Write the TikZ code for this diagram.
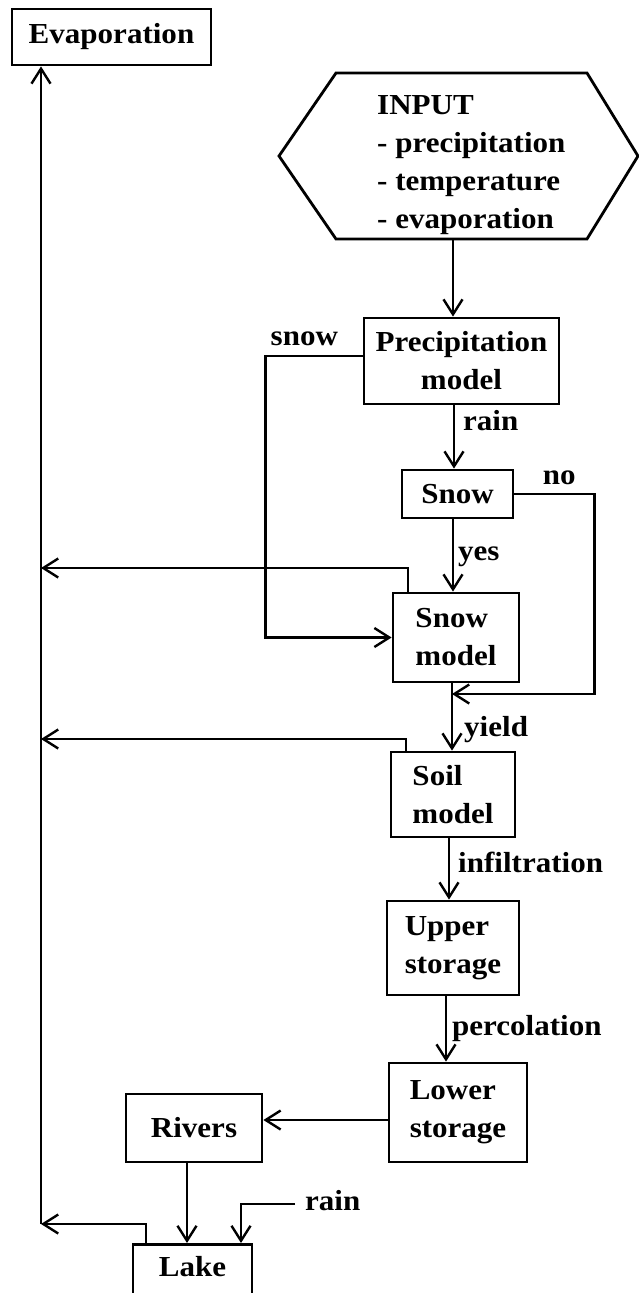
\documentclass[tikz,border=0pt]{standalone}
\usepackage{fontspec}
\setmainfont{Liberation Serif}[FakeStretch=1.07]
\usetikzlibrary{arrows.meta,positioning}

\begin{document}
\begin{tikzpicture}[
        x=1pt, y=-1pt,
        every node/.style={font=\bfseries\fontsize{29}{38}\selectfont},
        block/.style={rectangle, draw=black, line width=2.8pt, inner sep=0pt, align=center},
        lbl/.style={anchor=base west, inner sep=0pt},
        arrow/.style={-{Straight Barb[length=15pt, width=19pt]}, line width=2.4pt, draw=black}
        ]
        \useasboundingbox (0,0) rectangle (639,1293);

        \node[block, minimum width=199pt, minimum height=56pt] (evap) at (111.5, 37) {Evaporation};
        \node[anchor=north west, inner sep=0pt, align=left] (input) at (377, 95) {INPUT\\- precipitation\\- temperature\\- evaporation};
        \draw[line width=2.8pt] ([shift={(-41,-22)}]input.north west) -- ++(251,0) -- ++(51,83) -- ++(-51,83) -- ++(-251,0) -- ++(-57,-83) -- cycle;
        \coordinate (inbot) at ([shift={(76,144)}]input.north west);

        \node[block, minimum width=195pt, minimum height=86pt] (precip) at (461.5, 361) {Precipitation\\model};
        \node[block, minimum width=111pt, minimum height=48pt] (snow) at (457.5, 494) {Snow};
        \node[block, align=left, minimum width=126pt, minimum height=89pt] (snowm) at (456, 637.5) {Snow\\model};
        \node[block, align=left, minimum width=124pt, minimum height=85pt] (soil) at (453, 794.5) {Soil\\model};
        \node[block, align=left, minimum width=132pt, minimum height=94pt] (upper) at (453, 948) {Upper\\storage};
        \node[block, align=left, minimum width=138pt, minimum height=99pt] (lower) at (458, 1112.5) {Lower\\storage};
        \node[block, minimum width=136pt, minimum height=68pt] (rivers) at (194, 1128) {Rivers};
        \node[block, anchor=north, minimum width=119pt, inner ysep=12.4pt, text depth=50pt] (lake) at (192.5, 1243) {Lake};
        \node[lbl] (rainl) at (305, 1210) {rain};

        \coordinate (merge) at (452, 694);
        \coordinate (ev1) at (41, 568);
        \coordinate (ev2) at (41, 739);
        \coordinate (ev3) at (41, 1224);

        % main column
        \draw[arrow] (inbot) -- (precip.north -| inbot);
        \draw[arrow] (precip.south -| 454,0) -- node[lbl, pos=0.39, xshift=8pt] {rain} (snow.north -| 454,0);
        \draw[arrow] (snow.south -| 453,0) -- node[lbl, pos=0.57, xshift=4pt] {yes} (snowm.north -| 453,0);
        \draw[arrow] (snowm.south -| merge) -- node[lbl, pos=0.79, xshift=11pt] {yield} (soil.north -| merge);
        \draw[arrow] (soil.south -| 449,0) -- node[lbl, pos=0.55, xshift=8pt] {infiltration} (upper.north -| 449,0);
        \draw[arrow] (upper.south -| 446,0) -- node[lbl, pos=0.6, xshift=5pt] {percolation} (lower.north -| 446,0);
        \draw[arrow] (lower.west |- 0,1120) -- (rivers.east |- 0,1120);
        \draw[arrow] (rivers.south -| 187,0) -- (lake.north -| 187,0);
        \draw[arrow] ([xshift=-10pt, yshift=-4pt]rainl.west) -| (lake.north -| 241,0);

        % snow / no branches
        \draw[arrow] ([yshift=5pt]precip.west) -- node[lbl, pos=0.96, yshift=11pt] {snow} ++(-97,0) |- (snowm.west);
        \draw[arrow] (snow.east) -- node[lbl, pos=0.34, yshift=10pt] {no} ++(80,0) |- (merge);

        % evaporation
        \draw[arrow] (snowm.north -| 408,0) |- (ev1);
        \draw[arrow] (soil.north -| 406,0) |- (ev2);
        \draw[arrow] (lake.north -| 146,0) |- (ev3);
        \draw[arrow] (ev3) -- (ev3 |- evap.south);

\end{tikzpicture}
\end{document}
